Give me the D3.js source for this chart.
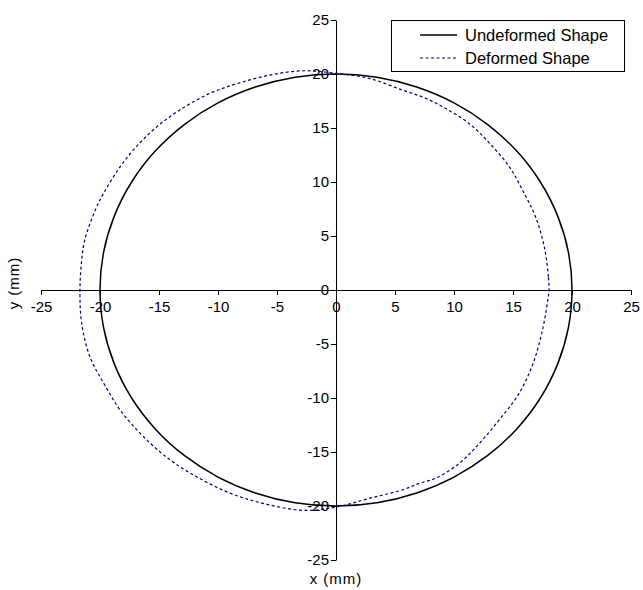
<!DOCTYPE html>
<html><head><meta charset="utf-8">
<script src="https://cdn.jsdelivr.net/npm/d3@7"></script>
<style>body{margin:0;background:#fff}svg{display:block}text{font-family:"Liberation Sans",Arial,sans-serif;fill:#000}</style>
</head><body>
<svg id="c" width="643" height="590"></svg>
<script>
// Undeformed shape (radius 20 circle), points every 10 degrees
const undeformedX = [20,19.70,18.79,17.32,15.32,12.86,10.00,6.84,3.47,0,-3.47,-6.84,-10.00,-12.86,-15.32,-17.32,-18.79,-19.70,-20,-19.70,-18.79,-17.32,-15.32,-12.86,-10.00,-6.84,-3.47,0,3.47,6.84,10.00,12.86,15.32,17.32,18.79,19.70];
const undeformedY = [0,3.47,6.84,10.00,12.86,15.32,17.32,18.79,19.70,20,19.70,18.79,17.32,15.32,12.86,10.00,6.84,3.47,0,-3.47,-6.84,-10.00,-12.86,-15.32,-17.32,-18.79,-19.70,-20,-19.70,-18.79,-17.32,-15.32,-12.86,-10.00,-6.84,-3.47];
// Deformed shape
const deformedX = [18.05,18.0,17.65,16.9,15.8,14.7,13.0,11.3,9.3,7.6,5.65,2.8,0,-2.8,-5.6,-8.4,-10.7,-13.2,-15.2,-16.9,-18.3,-19.7,-20.4,-21.3,-21.55,-21.7,-21.55,-20.85,-19.7,-18.3,-16.3,-14.1,-11.8,-9.0,-6.2,-2.8,0,2.8,5.65,7.06,8.5,10.45,12.15,13.85,15.5,16.7,17.5,17.95];
const deformedY = [0,1.23,4.0,6.8,9.26,11.4,13.6,15.4,16.8,17.75,18.5,19.6,20.06,20.3,19.9,19.1,18.2,16.7,15.1,13.3,11.4,8.95,7.4,4.6,2.78,0,-3.1,-6.2,-8.6,-11.1,-13.6,-15.7,-17.3,-18.8,-19.75,-20.4,-20.1,-19.3,-18.5,-17.9,-17.4,-16.05,-14.2,-12.0,-9.6,-6.8,-3.7,-0.93];
const ticks = [-25,-20,-15,-10,-5,0,5,10,15,20,25];
const seriesNames = ["Undeformed Shape","Deformed Shape"];

const svg = d3.select("#c");
const x = d3.scaleLinear().domain([-25,25]).range([41,631]);
const y = d3.scaleLinear().domain([-25,25]).range([560,20]);
const fmt = d => String(d);

// axes
const xAxis = d3.axisBottom(x).tickValues(ticks).tickFormat(fmt).tickSize(5).tickPadding(3).tickSizeOuter(0);
const gx = svg.append("g").attr("transform",`translate(0,${y(0)})`).call(xAxis);
const yAxis = d3.axisLeft(y).tickValues(ticks).tickFormat(fmt).tickSize(5).tickPadding(2).tickSizeOuter(0);
const gy = svg.append("g").attr("transform",`translate(${x(0)},0)`).call(yAxis);
[gx,gy].forEach(g=>{
  g.select(".domain").attr("stroke","#000").attr("stroke-width",1);
  g.selectAll(".tick line").attr("stroke","#000");
  g.selectAll("text").style("font-size","15px").attr("fill","#000");
});
gx.selectAll(".tick text").attr("dy","0.9em");

const line = d3.line().x(d=>x(d[0])).y(d=>y(d[1])).curve(d3.curveCatmullRomClosed);
const und = undeformedX.map((v,i)=>[v,undeformedY[i]]);
const def = deformedX.map((v,i)=>[v,deformedY[i]]);
svg.append("path").attr("d",line(und)).attr("fill","none").attr("stroke","#000").attr("stroke-width",1.5);
svg.append("path").attr("d",line(def)).attr("fill","none").attr("stroke","#000080").attr("stroke-width",1.2).attr("stroke-dasharray","3,2.5");

// axis titles
svg.append("text").attr("x",336).attr("y",584).attr("text-anchor","middle").style("font-size","15px").style("letter-spacing","1px").text("x (mm)");
svg.append("text").attr("transform","translate(19,283) rotate(-90)").attr("text-anchor","middle").style("font-size","15px").style("letter-spacing","1px").text("y (mm)");

// legend
const lg = svg.append("g");
lg.append("rect").attr("x",391.5).attr("y",20.5).attr("width",233).attr("height",51).attr("fill","#fff").attr("stroke","#000");
lg.append("line").attr("x1",420).attr("x2",457).attr("y1",35).attr("y2",35).attr("stroke","#000").attr("stroke-width",1.5);
lg.append("line").attr("x1",420).attr("x2",457).attr("y1",58).attr("y2",58).attr("stroke","#000080").attr("stroke-width",1.2).attr("stroke-dasharray","3,2.5");
lg.append("text").attr("x",465).attr("y",41).style("font-size","16.5px").text(seriesNames[0]);
lg.append("text").attr("x",465).attr("y",64).style("font-size","16.5px").text(seriesNames[1]);
</script>
</body></html>
